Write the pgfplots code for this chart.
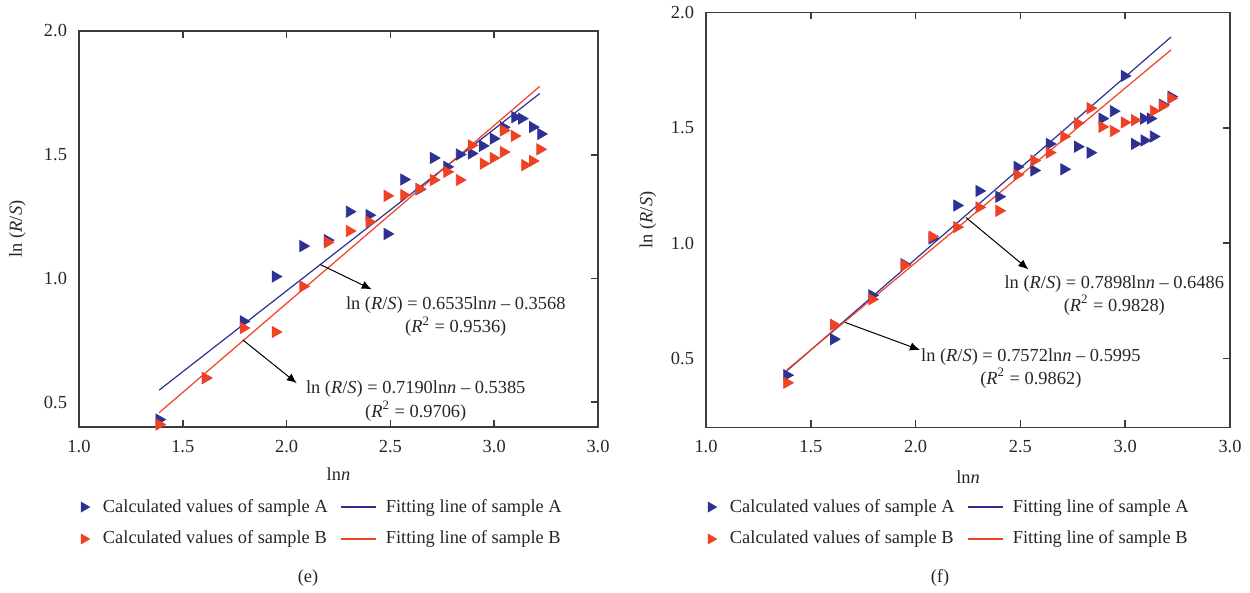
\documentclass[border=0pt]{standalone}
\usepackage{fontspec}
\setmainfont{Liberation Serif}
\usepackage{pgfplots}
\pgfplotsset{compat=1.18}
\usetikzlibrary{arrows.meta}
\definecolor{cA}{RGB}{46,49,146}
\definecolor{cB}{RGB}{239,65,35}
\definecolor{ax}{RGB}{60,60,60}
\newcommand\fs{\fontsize{9.2bp}{11.6bp}\selectfont}

\pgfplotsset{
  panel/.style={
    scale only axis, anchor=south west,
    xmin=1, xmax=3.5, ymax=2.0,
    xtick={1,1.5,2,2.5,3,3.5}, xticklabels={1.0,1.5,2.0,2.5,3.0,3.0},
    ytick={0.5,1,1.5,2}, yticklabels={0.5,1.0,1.5,2.0},
    tick align=inside, xtick pos=both, ytick pos=right, yticklabel pos=left,
    major tick length=3.5bp,
    axis line style={ax, line width=0.8bp},
    every tick/.style={ax, line width=0.8bp},
    /pgf/number format/assume math mode=true,
    every tick label/.append style={font=\fs, text=black!85},
    xticklabel style={yshift=-3bp},
    yticklabel style={xshift=-2.5bp},
    xlabel={ln\textit{n}}, ylabel={ln (\textit{R}/\textit{S})},
    label style={font=\fs, text=black!85},
    xlabel style={at={(axis description cs:0.5,-0.12)}, anchor=center},
    legend columns=2,
    legend cell align=left,
    legend style={draw=none, fill=none, font=\fs, text=black!85, anchor=north west,
      inner sep=0pt, row sep=4bp,
      /tikz/every odd column/.append style={column sep=2.8bp},
      /tikz/every even column/.append style={column sep=4.5bp}},
  },
  markA/.style={only marks, color=cA, mark=triangle*, mark size=3.2pt, mark options={rotate=-90, draw=none, fill=cA}},
  markB/.style={only marks, color=cB, mark=triangle*, mark size=3.2pt, mark options={rotate=-90, draw=none, fill=cB}},
  legmark/.style={color=#1, mark=triangle*, mark size=2.8pt, mark options={rotate=-90, draw=none, fill=#1},
    legend image code/.code={\draw[##1] plot coordinates {(0bp,0bp)}; \path (-2.6bp,0bp) (4.5bp,0bp);}},
  legline/.style={draw=#1, color=#1, line width=0.75bp},
}

\begin{document}
\begin{tikzpicture}
\path[use as bounding box] (0,0) rectangle (625bp,296.5bp);

% ---------------- panel (e)
\begin{axis}[panel, at={(39.5bp,83bp)}, width=259.5bp, height=198bp, ymin=0.4,
  ylabel style={at={(axis description cs:-0.1185,0.5)}, anchor=center},
  legend style={at={(axis description cs:-0.002,-0.171)}}]
\addplot[cA, line width=0.6bp, forget plot] coordinates {(1.386,0.549) (3.219,1.747)};
\addplot[cB, line width=0.6bp, forget plot] coordinates {(1.386,0.458) (3.219,1.776)};
\addplot[markA, forget plot] table {
x y
1.386 0.430
1.609 0.598
1.792 0.827
1.946 1.008
2.079 1.131
2.197 1.155
2.303 1.270
2.398 1.256
2.485 1.180
2.565 1.400
2.639 1.360
2.708 1.487
2.773 1.451
2.833 1.501
2.890 1.505
2.944 1.536
2.996 1.565
3.045 1.611
3.100 1.652
3.132 1.646
3.185 1.612
3.225 1.584
};
\addplot[markB, forget plot] table {
x y
1.386 0.410
1.609 0.598
1.792 0.800
1.946 0.784
2.079 0.968
2.197 1.146
2.303 1.192
2.398 1.229
2.485 1.334
2.565 1.337
2.639 1.362
2.708 1.398
2.773 1.431
2.833 1.398
2.890 1.538
2.948 1.464
2.996 1.487
3.045 1.511
3.045 1.598
3.097 1.576
3.148 1.458
3.185 1.475
3.221 1.522
};
\draw[black, line width=0.5bp, -{Latex[length=5bp,width=4.2bp]}] (axis cs:2.161,1.057) -- (axis cs:2.41,0.956);
\draw[black, line width=0.5bp, -{Latex[length=5bp,width=4.2bp]}] (axis cs:1.789,0.752) -- (axis cs:2.049,0.577);
\node[font=\fs, text=black!85, align=center, inner sep=0pt] at (axis cs:2.815,0.846)
  {ln (\textit{R}/\textit{S}) = 0.6535ln\textit{n} – 0.3568\\(\textit{R}\textsuperscript{2} = 0.9536)};
\node[font=\fs, text=black!85, align=center, inner sep=0pt] at (axis cs:2.622,0.505)
  {ln (\textit{R}/\textit{S}) = 0.7190ln\textit{n} – 0.5385\\(\textit{R}\textsuperscript{2} = 0.9706)};
\addlegendimage{legmark=cA}
\addlegendimage{legline=cA}
\addlegendimage{legmark=cB}
\addlegendimage{legline=cB}
\legend{Calculated values of sample A, Fitting line of sample A, Calculated values of sample B, Fitting line of sample B}
\end{axis}

% ---------------- panel (f)
\begin{axis}[panel, at={(353bp,82.75bp)}, width=262bp, height=207.5bp, ymin=0.2,
  ylabel style={at={(axis description cs:-0.111,0.5)}, anchor=center},
  legend style={at={(axis description cs:-0.002,-0.162)}}]
\addplot[cA, line width=0.6bp, forget plot] coordinates {(1.386,0.446) (3.219,1.894)};
\addplot[cB, line width=0.6bp, forget plot] coordinates {(1.386,0.450) (3.219,1.838)};
\addplot[markA, forget plot] table {
x y
1.386 0.427
1.609 0.583
1.792 0.773
1.946 0.908
2.079 1.020
2.197 1.163
2.303 1.226
2.398 1.201
2.485 1.330
2.565 1.315
2.639 1.430
2.708 1.320
2.773 1.418
2.833 1.392
2.890 1.540
2.944 1.572
2.996 1.725
3.045 1.430
3.091 1.445
3.088 1.540
3.120 1.540
3.135 1.462
3.178 1.600
3.219 1.635
};
\addplot[markB, forget plot] table {
x y
1.386 0.394
1.609 0.646
1.792 0.756
1.946 0.904
2.079 1.028
2.197 1.069
2.303 1.155
2.398 1.140
2.485 1.296
2.565 1.358
2.639 1.392
2.708 1.462
2.773 1.520
2.833 1.585
2.890 1.504
2.944 1.486
2.996 1.523
3.045 1.533
3.135 1.573
3.178 1.595
3.219 1.628
};
\draw[black, line width=0.5bp, -{Latex[length=5bp,width=4.2bp]}] (axis cs:2.240,1.111) -- (axis cs:2.538,0.886);
\draw[black, line width=0.5bp, -{Latex[length=5bp,width=4.2bp]}] (axis cs:1.663,0.656) -- (axis cs:2.021,0.536);
\node[font=\fs, text=black!85, align=center, inner sep=0pt] at (axis cs:2.948,0.773)
  {ln (\textit{R}/\textit{S}) = 0.7898ln\textit{n} – 0.6486\\(\textit{R}\textsuperscript{2} = 0.9828)};
\node[font=\fs, text=black!85, align=center, inner sep=0pt] at (axis cs:2.55,0.456)
  {ln (\textit{R}/\textit{S}) = 0.7572ln\textit{n} – 0.5995\\(\textit{R}\textsuperscript{2} = 0.9862)};
\addlegendimage{legmark=cA}
\addlegendimage{legline=cA}
\addlegendimage{legmark=cB}
\addlegendimage{legline=cB}
\legend{Calculated values of sample A, Fitting line of sample A, Calculated values of sample B, Fitting line of sample B}
\end{axis}

\node[font=\fs, text=black!85] at (154bp,7.5bp) {(e)};
\node[font=\fs, text=black!85] at (470bp,7.5bp) {(f)};
\end{tikzpicture}
\end{document}
